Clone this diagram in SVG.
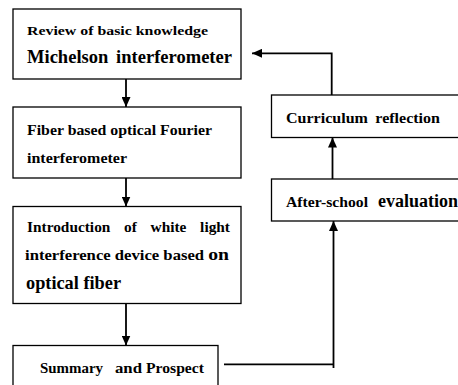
<svg xmlns="http://www.w3.org/2000/svg" width="458" height="385" viewBox="0 0 458 385">
<style>
.box{fill:#fff;stroke:#000;stroke-width:1.3}
.t{font-family:"Liberation Serif","Times New Roman",serif;font-weight:bold;fill:#000}
.c{fill:none;stroke:#000;stroke-width:1.8}
</style>
<defs>
<marker id="ah" viewBox="0 0 10 10" refX="10" refY="5" markerUnits="userSpaceOnUse" markerWidth="10" markerHeight="9" orient="auto" preserveAspectRatio="none">
<path d="M0,0 L10,5 L0,10 z" fill="#000"/>
</marker>
</defs>
<rect width="458" height="385" fill="#fff"/>
<g id="n1">
<rect class="box" x="13" y="9" width="228" height="70"/>
<text class="t" x="27" y="35" font-size="13.5" textLength="181" lengthAdjust="spacingAndGlyphs">Review of basic knowledge</text>
<text class="t" x="27" y="63" font-size="18" textLength="205" lengthAdjust="spacingAndGlyphs" word-spacing="3">Michelson interferometer</text>
</g>
<g id="n2">
<rect class="box" x="13" y="107" width="228" height="71"/>
<text class="t" x="27" y="135" font-size="14" textLength="185" lengthAdjust="spacingAndGlyphs">Fiber based optical Fourier</text>
<text class="t" x="27" y="163" font-size="14" textLength="100" lengthAdjust="spacingAndGlyphs">interferometer</text>
</g>
<g id="n3">
<rect class="box" x="13" y="206.5" width="228" height="97"/>
<text class="t" x="27" y="232" font-size="14" textLength="203" lengthAdjust="spacingAndGlyphs" word-spacing="9">Introduction of white light</text>
<text class="t" x="25" y="260" font-size="14" textLength="204" lengthAdjust="spacingAndGlyphs">interference device based <tspan font-size="16.5">on</tspan></text>
<text class="t" x="26" y="289" font-size="18" textLength="95" lengthAdjust="spacingAndGlyphs">optical fiber</text>
</g>
<g id="n4">
<rect class="box" x="13" y="345.5" width="205" height="50"/>
<text class="t" x="40" y="373" font-size="14"><tspan textLength="63" lengthAdjust="spacingAndGlyphs">Summary</tspan><tspan x="115" textLength="27" lengthAdjust="spacingAndGlyphs">and</tspan><tspan x="146" textLength="58" lengthAdjust="spacingAndGlyphs">Prospect</tspan></text>
</g>
<g id="n5">
<rect class="box" x="271.5" y="95" width="200" height="42.5"/>
<text class="t" x="286" y="122.5" font-size="14" textLength="154" lengthAdjust="spacingAndGlyphs" word-spacing="3">Curriculum reflection</text>
</g>
<g id="n6">
<rect class="box" x="271.5" y="179" width="200" height="42"/>
<text class="t" x="286" y="206.5" font-size="14"><tspan textLength="82" lengthAdjust="spacingAndGlyphs">After-school</tspan><tspan x="378" font-size="18">evaluation</tspan></text>
</g>
<g id="connectors">
<line class="c" x1="126" y1="79" x2="126" y2="107" marker-end="url(#ah)"/>
<line class="c" x1="126" y1="178" x2="126" y2="206.5" marker-end="url(#ah)"/>
<line class="c" x1="126" y1="303.5" x2="126" y2="345.5" marker-end="url(#ah)"/>
<polyline class="c" points="224,364.3 333.5,364.3"/>
<line class="c" x1="333.5" y1="368" x2="333.5" y2="221" marker-end="url(#ah)"/>
<line class="c" x1="332.5" y1="179" x2="332.5" y2="137.5" marker-end="url(#ah)"/>
<polyline class="c" points="331.7,95 331.7,53.3 252,53.3" marker-end="url(#ah)"/>
</g>
</svg>
